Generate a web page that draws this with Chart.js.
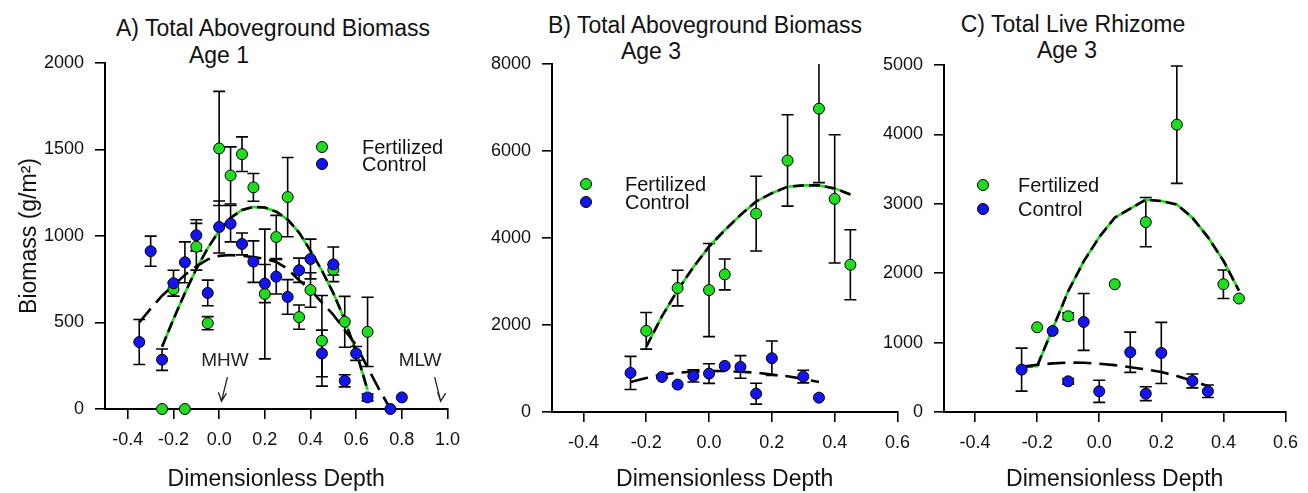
<!DOCTYPE html>
<html>
<head>
<meta charset="utf-8">
<script src="https://cdn.jsdelivr.net/npm/chart.js@4.4.1/dist/chart.umd.min.js"></script>
<style>
  body { margin: 0; background: #fff; width: 1308px; height: 493px; position: relative; overflow: hidden;
         font-family: "Liberation Sans", Arial, sans-serif; color: #111; }
  canvas { position: absolute; top: 0; }
  .ttl { position: absolute; font-size: 23px; line-height: 23px; white-space: nowrap; transform: translateX(-50%); }
</style>
</head>
<body>
<div class="ttl" style="left:273px;top:17px">A) Total Aboveground Biomass</div>
<div class="ttl" style="left:219px;top:44px">Age 1</div>
<div class="ttl" style="left:705px;top:14px">B) Total Aboveground Biomass</div>
<div class="ttl" style="left:651px;top:40px">Age 3</div>
<div class="ttl" style="left:1073px;top:13px">C) Total Live Rhizome</div>
<div class="ttl" style="left:1067px;top:39px">Age 3</div>

<canvas id="panelA" width="470" height="493" style="left:0px"></canvas>
<canvas id="panelB" width="450" height="493" style="left:470px"></canvas>
<canvas id="panelC" width="448" height="493" style="left:860px"></canvas>

<script>
// Colores
const fertColor = '#1fdc1f';
const ctrlColor = '#1414ee';
const fontFamily = '"Liberation Sans", Arial, sans-serif';

// ---- Panel A: Total Aboveground Biomass, Age 1 ----
const fertA_x   = [-0.25, -0.2, -0.15, -0.1, -0.05, 0.0, 0.05, 0.1, 0.15, 0.2, 0.25, 0.3, 0.35, 0.4, 0.45, 0.5, 0.55, 0.65];
const fertA_y   = [0, 692, 0, 938, 496, 1506, 1350, 1473, 1281, 665, 994, 1225, 531, 688, 394, 805, 504, 446];
const fertA_err = [0, 40, 0, 135, 38, 330, 165, 100, 80, 375, 125, 229, 70, 100, 262, 30, 147, 200];

const ctrlA_x   = [-0.35, -0.3, -0.25, -0.2, -0.15, -0.1, -0.05, 0.0, 0.05, 0.1, 0.15, 0.2, 0.25, 0.3, 0.35, 0.4, 0.45, 0.5, 0.55, 0.6, 0.65, 0.75, 0.8];
const ctrlA_y   = [387, 912, 285, 727, 848, 1004, 671, 1052, 1071, 954, 852, 725, 765, 648, 802, 867, 321, 836, 163, 321, 67, 0, 67];
const ctrlA_err = [130, 87, 62, 75, 118, 90, 74, 150, 105, 63, 120, 110, 100, 100, 70, 115, 135, 100, 35, 40, 20, 0, 0];

const fitFertA_x = [-0.25, -0.2, -0.15, -0.1, -0.05, 0, 0.05, 0.1, 0.15, 0.2, 0.25, 0.3, 0.35, 0.4, 0.45, 0.5, 0.55, 0.6, 0.65];
const fitFertA_y = [360, 520, 670, 810, 930, 1030, 1105, 1150, 1168, 1165, 1140, 1095, 1020, 915, 800, 670, 515, 330, 110];
const fitCtrlA_x = [-0.35, -0.3, -0.25, -0.2, -0.15, -0.1, -0.05, 0, 0.05, 0.1, 0.15, 0.2, 0.25, 0.3, 0.35, 0.4, 0.45, 0.5, 0.55, 0.6, 0.65, 0.7, 0.75];
const fitCtrlA_y = [500, 580, 655, 715, 775, 825, 865, 885, 890, 885, 878, 868, 850, 810, 744, 690, 615, 545, 456, 369, 240, 115, 0];

const xTicksA = [-0.4, -0.2, 0.0, 0.2, 0.4, 0.6, 0.8, 1.0];
const yTicksA = [0, 500, 1000, 1500, 2000];

const tideLabels = ['MHW', 'MLW'];
const tideArrowX = [0.01, 0.97];
const tideTextX  = [0.025, 0.88];

// ---- Panel B: Total Aboveground Biomass, Age 3 ----
const fertB_x   = [-0.2, -0.1, 0.0, 0.05, 0.15, 0.25, 0.35, 0.4, 0.45];
const fertB_y   = [1866, 2849, 2803, 3163, 4561, 5782, 6972, 4899, 3386];
const fertB_err = [420, 410, 1070, 355, 860, 1050, 1700, 1475, 805];

const ctrlB_x   = [-0.25, -0.15, -0.1, -0.05, 0.0, 0.05, 0.1, 0.15, 0.2, 0.3, 0.35];
const ctrlB_y   = [898, 806, 630, 829, 883, 1060, 1037, 422, 1236, 814, 330];
const ctrlB_err = [380, 0, 0, 140, 225, 0, 260, 240, 395, 145, 0];

const fitFertB_x = [-0.2, -0.15, -0.1, -0.05, 0, 0.05, 0.1, 0.15, 0.2, 0.25, 0.3, 0.35, 0.4, 0.45];
const fitFertB_y = [1500, 2200, 2800, 3330, 3800, 4180, 4530, 4840, 5030, 5180, 5210, 5210, 5140, 5000];
const fitCtrlB_x = [-0.25, -0.2, -0.15, -0.1, -0.05, 0, 0.05, 0.1, 0.15, 0.2, 0.25, 0.3, 0.35];
const fitCtrlB_y = [690, 780, 860, 900, 930, 940, 942, 925, 905, 860, 820, 760, 690];

const xTicksBC = [-0.4, -0.2, 0.0, 0.2, 0.4, 0.6];
const yTicksB = [0, 2000, 4000, 6000, 8000];

// ---- Panel C: Total Live Rhizome, Age 3 ----
const fertC_x   = [-0.2, -0.1, 0.05, 0.15, 0.25, 0.4, 0.45];
const fertC_y   = [1221, 1380, 1841, 2736, 4140, 1841, 1635];
const fertC_err = [0, 50, 0, 355, 845, 205, 0];

const ctrlC_x   = [-0.25, -0.15, -0.1, -0.05, 0.0, 0.1, 0.15, 0.2, 0.3, 0.35];
const ctrlC_y   = [611, 1168, 442, 1298, 298, 861, 264, 851, 447, 298];
const ctrlC_err = [310, 0, 40, 410, 160, 290, 100, 440, 100, 90];

const fitFertC_x = [-0.25, -0.2, -0.15, -0.1, -0.05, 0, 0.05, 0.1, 0.15, 0.2, 0.25, 0.3, 0.35, 0.4, 0.45];
const fitFertC_y = [655, 660, 1200, 1740, 2170, 2520, 2800, 2930, 3060, 3040, 2990, 2800, 2520, 2180, 1750];
const fitCtrlC_x = [-0.25, -0.2, -0.15, -0.1, -0.05, 0, 0.05, 0.1, 0.15, 0.2, 0.25, 0.3, 0.35];
const fitCtrlC_y = [650, 680, 700, 712, 710, 695, 675, 645, 615, 575, 520, 450, 375];

const yTicksC = [0, 1000, 2000, 3000, 4000, 5000];

Chart.defaults.font.family = fontFamily;
Chart.defaults.color = '#111';

function pts(xs, ys) {
    return xs.map((x, i) => ({ x: x, y: ys[i] }));
}

// Barras de error (verticales, con tapas)
const errorBars = {
    id: 'errorBars',
    beforeDatasetsDraw(chart) {
        const { ctx, chartArea, scales } = chart;
        ctx.save();
        ctx.beginPath();
        ctx.rect(chartArea.left, chartArea.top, chartArea.width, chartArea.height + 2);
        ctx.clip();
        ctx.strokeStyle = '#000';
        ctx.lineWidth = 1.6;
        chart.data.datasets.forEach(ds => {
            if (!ds.errors) return;
            ds.data.forEach((p, i) => {
                const e = ds.errors[i];
                if (!e) return;
                const px = scales.x.getPixelForValue(p.x);
                const top = scales.y.getPixelForValue(p.y + e);
                const bot = scales.y.getPixelForValue(p.y - e);
                ctx.beginPath();
                ctx.moveTo(px, top); ctx.lineTo(px, bot);
                ctx.moveTo(px - 6, top); ctx.lineTo(px + 6, top);
                ctx.moveTo(px - 6, bot); ctx.lineTo(px + 6, bot);
                ctx.stroke();
            });
        });
        ctx.restore();
    }
};

// Leyenda dentro del panel
const panelLegend = {
    id: 'panelLegend',
    afterDraw(chart, args, opts) {
        const { ctx } = chart;
        const items = chart.data.datasets.filter(d => d.legendRank !== undefined)
            .sort((a, b) => a.legendRank - b.legendRank);
        ctx.save();
        items.forEach((ds, i) => {
            const y = opts.y + i * opts.gap;
            ctx.beginPath();
            ctx.arc(opts.x, y, 5.5, 0, Math.PI * 2);
            ctx.fillStyle = ds.backgroundColor;
            ctx.fill();
            ctx.lineWidth = 1;
            ctx.strokeStyle = '#000';
            ctx.stroke();
            ctx.fillStyle = '#111';
            ctx.font = '20px ' + fontFamily;
            ctx.textBaseline = 'middle';
            ctx.textAlign = 'left';
            ctx.fillText(ds.label, opts.textX, y + 1);
        });
        ctx.restore();
    }
};

// Marcas MHW / MLW (solo panel A)
const tideMarks = {
    id: 'tideMarks',
    afterDatasetsDraw(chart, args, opts) {
        if (!opts.labels) return;
        const { ctx, scales } = chart;
        ctx.save();
        ctx.strokeStyle = '#222';
        ctx.lineWidth = 1.3;
        opts.labels.forEach((lab, i) => {
            const tipX = scales.x.getPixelForValue(opts.arrowX[i]);
            const tipY = scales.y.getPixelForValue(opts.tipY);
            const topX = tipX + (i === 0 ? 6 : -6);
            const topY = tipY - 24;
            ctx.beginPath();
            ctx.moveTo(topX, topY); ctx.lineTo(tipX, tipY);
            ctx.moveTo(tipX - 3, tipY - 9); ctx.lineTo(tipX, tipY);
            ctx.lineTo(tipX + 5, tipY - 8);
            ctx.stroke();
            ctx.fillStyle = '#222';
            ctx.font = '19px ' + fontFamily;
            ctx.textAlign = 'center';
            ctx.textBaseline = 'middle';
            ctx.fillText(lab, scales.x.getPixelForValue(opts.textX[i]), tipY - 40);
        });
        ctx.restore();
    }
};

function makeDatasets(fx, fy, fe, cx, cy, ce, ffx, ffy, fcx, fcy) {
    const pointStyle = {
        pointRadius: 5.5, pointHoverRadius: 5.5, pointBorderWidth: 1, borderColor: '#000',
        showLine: false, clip: false
    };
    return [
        // Control encima de Fertilized, como en la figura original
        Object.assign({ label: 'Control', data: pts(cx, cy), errors: ce, backgroundColor: ctrlColor, order: 0, legendRank: 1 }, pointStyle),
        Object.assign({ label: 'Fertilized', data: pts(fx, fy), errors: fe, backgroundColor: fertColor, order: 1, legendRank: 0 }, pointStyle),
        { label: 'fit fert (base)', data: pts(ffx, ffy), showLine: true, pointRadius: 0, borderColor: fertColor, borderWidth: 2.6, order: 4 },
        { label: 'fit fert', data: pts(ffx, ffy), showLine: true, pointRadius: 0, borderColor: '#000', borderWidth: 2.6, borderDash: [11, 5], order: 3 },
        { label: 'fit control', data: pts(fcx, fcy), showLine: true, pointRadius: 0, borderColor: '#000', borderWidth: 2.6, borderDash: [18, 8], order: 2 }
    ];
}

function makePanel(id, cfg) {
    const canvas = document.getElementById(id);
    const H = canvas.height;
    new Chart(canvas, {
        type: 'scatter',
        data: { datasets: cfg.datasets },
        options: {
            responsive: false,
            animation: false,
            events: [],
            layout: { padding: { left: 0, top: cfg.top, right: cfg.right, bottom: 0 } },
            plugins: {
                legend: { display: false },
                tooltip: { enabled: false },
                panelLegend: cfg.legend,
                tideMarks: cfg.tide || {}
            },
            scales: {
                x: {
                    type: 'linear',
                    min: cfg.xMin, max: cfg.xMax,
                    afterBuildTicks: s => { s.ticks = cfg.xTicks.map(v => ({ value: v })); },
                    afterFit: s => { s.height = H - cfg.bottom; },
                    border: { display: true, color: '#000', width: 2 },
                    grid: { drawOnChartArea: false, drawTicks: true, tickLength: 10, color: '#000', lineWidth: 1.6 },
                    ticks: { font: { size: 18 }, padding: 10, maxRotation: 0, autoSkip: false,
                             callback: v => v.toFixed(1) },
                    title: { display: true, text: 'Dimensionless Depth', font: { size: 23 }, padding: 0 }
                },
                y: {
                    type: 'linear',
                    min: cfg.yTicks[0], max: cfg.yTicks[cfg.yTicks.length - 1],
                    afterBuildTicks: s => { s.ticks = cfg.yTicks.map(v => ({ value: v })); },
                    afterFit: s => { s.width = cfg.left; },
                    border: { display: true, color: '#000', width: 2 },
                    grid: { drawOnChartArea: false, drawTicks: true, tickLength: 10, color: '#000', lineWidth: 1.6 },
                    ticks: { font: { size: 18 }, padding: 11, autoSkip: false, callback: v => String(v) },
                    title: { display: !!cfg.yTitle, text: cfg.yTitle || '', font: { size: 23 }, padding: { top: 16, bottom: 0 } }
                }
            }
        },
        plugins: [errorBars, panelLegend, tideMarks]
    });
}

document.addEventListener('DOMContentLoaded', function() {
    makePanel('panelA', {
        datasets: makeDatasets(fertA_x, fertA_y, fertA_err, ctrlA_x, ctrlA_y, ctrlA_err, fitFertA_x, fitFertA_y, fitCtrlA_x, fitCtrlA_y),
        top: 63, right: 18, bottom: 409, left: 105,
        xMin: -0.5, xMax: 1.0, xTicks: xTicksA, yTicks: yTicksA,
        yTitle: 'Biomass (g/m\u00B2)',
        legend: { x: 322, y: 147, gap: 17, textX: 362 },
        tide: { labels: tideLabels, arrowX: tideArrowX, textX: tideTextX, tipY: 45 }
    });
    makePanel('panelB', {
        datasets: makeDatasets(fertB_x, fertB_y, fertB_err, ctrlB_x, ctrlB_y, ctrlB_err, fitFertB_x, fitFertB_y, fitCtrlB_x, fitCtrlB_y),
        top: 64, right: 21, bottom: 412, left: 82,
        xMin: -0.5, xMax: 0.6, xTicks: xTicksBC, yTicks: yTicksB,
        legend: { x: 116, y: 184, gap: 18, textX: 155 }
    });
    makePanel('panelC', {
        datasets: makeDatasets(fertC_x, fertC_y, fertC_err, ctrlC_x, ctrlC_y, ctrlC_err, fitFertC_x, fitFertC_y, fitCtrlC_x, fitCtrlC_y),
        top: 65, right: 16, bottom: 412, left: 84,
        xMin: -0.5, xMax: 0.6, xTicks: xTicksBC, yTicks: yTicksC,
        legend: { x: 123, y: 185, gap: 24, textX: 158 }
    });
});
</script>
</body>
</html>
